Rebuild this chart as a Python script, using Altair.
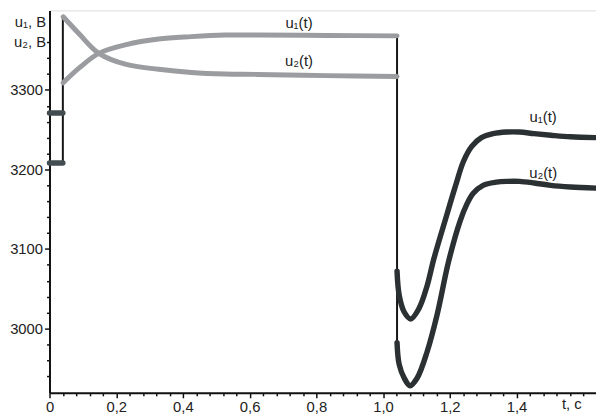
import altair as alt
import pandas as pd

# ---- data (t in s, u in V) ----
# state before the first switching
t_init = [0.0, 0.04]
u1_init = [3271, 3271]
u2_init = [3208, 3208]

# first transient (light grey curves)
t_light = [0.041, 0.090, 0.148, 0.230, 0.327, 0.425, 0.526, 0.624, 0.830, 1.042]
u1_light = [3309, 3328, 3346, 3357, 3364, 3367, 3369, 3369, 3368.5, 3368]
u2_light = [3392, 3370, 3346, 3332, 3326, 3322, 3320, 3319.5, 3318, 3317]

# second transient (dark curves)
t_dark1 = [1.042, 1.0483, 1.063, 1.083, 1.1076, 1.1324, 1.152, 1.187, 1.2163, 1.241,
           1.266, 1.295, 1.330, 1.370, 1.409, 1.453, 1.503, 1.562, 1.638]
u1_dark = [3072, 3042, 3021, 3012, 3025, 3054, 3087, 3137, 3178, 3210,
           3229, 3240, 3245, 3247, 3247, 3245, 3243, 3241, 3240]
t_dark2 = [1.042, 1.0483, 1.063, 1.081, 1.1028, 1.1324, 1.162, 1.1964, 1.231, 1.251,
           1.2705, 1.300, 1.340, 1.374, 1.409, 1.453, 1.503, 1.562, 1.638]
u2_dark = [2982, 2955, 2938, 2928, 2938, 2971, 3017, 3084, 3135, 3156,
           3170, 3180, 3184, 3185, 3185, 3183, 3180, 3178, 3176.5]

# switching instants (vertical jumps)
jump_t = [0.04, 1.042]
jump_lo = [3208, 2982]
jump_hi = [3392, 3368]

# curve labels
lab_text = ["u\u2081(t)", "u\u2082(t)", "u\u2081(t)", "u\u2082(t)"]
lab_t = [0.748, 0.748, 1.48, 1.48]
lab_u = [3384, 3336, 3266, 3196]

x_ticks = [round(0.04 * k, 2) for k in range(0, 41)]
y_ticks = list(range(2940, 3361, 20))

FONT = "Liberation Sans"


def seg(ts, us, name):
    return pd.DataFrame({"t": ts, "u": us, "seg": name})


init_df = pd.concat([seg(t_init, u1_init, "u1"), seg(t_init, u2_init, "u2")])
light_df = pd.concat([seg(t_light, u1_light, "u1"), seg(t_light, u2_light, "u2")])
dark_df = pd.concat([seg(t_dark1, u1_dark, "u1"), seg(t_dark2, u2_dark, "u2")])
jump_df = pd.DataFrame({"t": jump_t, "lo": jump_lo, "hi": jump_hi})
lab_df = pd.DataFrame({"txt": lab_text, "t": lab_t, "u": lab_u})

xscale = alt.Scale(domain=[0, 1.6385], nice=False, zero=False)
yscale = alt.Scale(domain=[2919, 3400], nice=False, zero=False)

MAJ_X = "abs(datum.value*5 - round(datum.value*5)) < 0.001 && datum.value < 1.5"

x_axis = alt.Axis(
    values=x_ticks,
    labelExpr=MAJ_X + " ? (datum.value == 0 ? '0' : replace(format(datum.value, '.1f'), '.', ',')) : ''",
    tickSize={"condition": {"test": MAJ_X, "value": 5}, "value": 3},
    tickWidth=1.5, tickColor="#111", domainColor="#111", domainWidth=2,
    grid=False, labelFlush=False, labelOverlap=False, labelPadding=2,
    labelFont=FONT, labelFontSize=15, labelColor="#222",
    title="t, c", titleFont=FONT, titleFontSize=15, titleFontWeight="normal",
    titleColor="#222", titleX=528, titleY=4, titleAlign="center", titleBaseline="top",
)
y_axis = alt.Axis(
    values=y_ticks,
    labelExpr="datum.value % 100 == 0 ? format(datum.value, 'd') : ''",
    tickSize={"condition": {"test": "datum.value % 100 == 0", "value": 5}, "value": 3},
    tickWidth=1.5, tickColor="#111", domainColor="#111", domainWidth=2,
    grid=False, labelOverlap=False, labelPadding=2,
    labelFont=FONT, labelFontSize=15, labelColor="#222",
    title=["u\u2081, B", "u\u2082, B"], titleFont=FONT, titleFontSize=15,
    titleFontWeight="normal", titleColor="#222", titleAngle=0,
    titleX=-4, titleY=4, titleAlign="right", titleBaseline="top", titleLineHeight=21,
)

base_x = alt.X("t:Q", scale=xscale, axis=x_axis)
base_y = alt.Y("u:Q", scale=yscale, axis=y_axis)

jumps = alt.Chart(jump_df).mark_rule(color="#151515", strokeWidth=2).encode(
    x=alt.X("t:Q", scale=xscale, axis=x_axis),
    y=alt.Y("lo:Q", scale=yscale, axis=y_axis),
    y2="hi:Q",
)

init = alt.Chart(init_df).mark_line(color="#434c50", strokeWidth=5.5, strokeCap="round").encode(
    x=base_x, y=base_y, detail="seg:N"
)
light = alt.Chart(light_df).mark_line(
    color="#9a9c9f", strokeWidth=5, interpolate="catmull-rom", strokeCap="round"
).encode(x=base_x, y=base_y, detail="seg:N")
dark = alt.Chart(dark_df).mark_line(
    color="#2b3033", strokeWidth=5.5, interpolate="catmull-rom", strokeCap="round"
).encode(x=base_x, y=base_y, detail="seg:N")

labels = alt.Chart(lab_df).mark_text(
    font=FONT, fontSize=15, color="#222", align="center", baseline="middle"
).encode(x=base_x, y=base_y, text="txt:N")

chart = alt.layer(jumps, init, light, dark, labels).properties(
    width=553,
    height=387,
    autosize=alt.AutoSizeParams(type="none"),
    padding={"left": 42, "top": 0, "right": 0, "bottom": 23},
).configure_view(stroke=None).configure(background="white")

chart.save("out.html", embed_options={"renderer": "svg", "actions": False})
